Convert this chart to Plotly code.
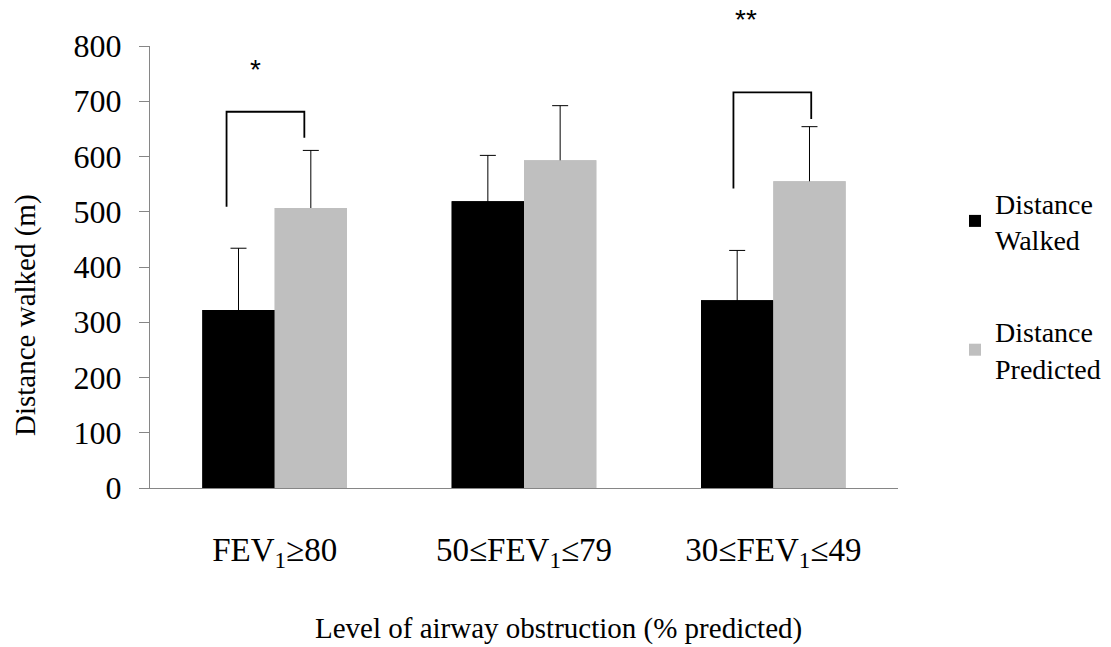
import plotly.graph_objects as go

categories = ["FEV<sub>1</sub>≥80", "50≤FEV<sub>1</sub>≤79", "30≤FEV<sub>1</sub>≤49"]
walked = [322, 519, 340]
walked_err = [112, 83, 90]
predicted = [507, 593, 555]
predicted_err = [104, 99, 99]
series_names = ["Distance<br>Walked", "Distance<br>Predicted"]
y_ticks = [0, 100, 200, 300, 400, 500, 600, 700, 800]
x_title = "Level of airway obstruction (% predicted)"
y_title = "Distance walked (m)"

FONT = "Liberation Serif"
BLACK = "#000000"
GREY = "#BFBFBF"
AXIS = "#868686"

fig = go.Figure()

# bars with error bars (lower halves get covered by the overlay copies)
for name, vals, errs, col, grp in [
    (series_names[0], walked, walked_err, BLACK, "w"),
    (series_names[1], predicted, predicted_err, GREY, "p"),
]:
    fig.add_trace(go.Bar(
        x=categories, y=vals, name=name, marker=dict(color=col, line=dict(width=0)),
        offsetgroup=grp, legendgroup=grp, showlegend=True,
        error_y=dict(type="data", array=errs, symmetric=True, color=BLACK,
                     thickness=1, width=8, visible=True),
    ))
for name, vals, col, grp in [
    (series_names[0], walked, BLACK, "w"),
    (series_names[1], predicted, GREY, "p"),
]:
    fig.add_trace(go.Bar(
        x=categories, y=vals, name=name, marker=dict(color=col, line=dict(width=0)),
        offsetgroup=grp, legendgroup=grp, showlegend=False, hoverinfo="skip",
    ))

# significance brackets
brackets = [
    # (category index, left offset, right offset, top, left bottom, right bottom)
    (0, -0.193, 0.119, 681, 509, 634),
    (2, -0.160, 0.152, 716, 542, 668),
]
for ci, lo, ro, top, lb, rb in brackets:
    fig.add_shape(type="path", xref="x", yref="y",
                  path=f"M {ci+lo},{lb} L {ci+lo},{top} L {ci+ro},{top} L {ci+ro},{rb}",
                  line=dict(color=BLACK, width=1.8))

fig.add_annotation(x=-0.076, y=757, xref="x", yref="y", text="*", showarrow=False,
                   yanchor="middle", xanchor="center",
                   font=dict(family="Liberation Sans", size=28, color=BLACK))
fig.add_annotation(x=(746 - 150) / 748, y=(488 - 20) / 442, xref="paper", yref="paper",
                   text="**", showarrow=False, yanchor="middle", xanchor="center",
                   font=dict(family="Liberation Sans", size=28, color=BLACK))

# axis titles (centred on the whole figure area as in the reference)
fig.add_annotation(x=(558 - 150) / 748, y=(488 - 628) / 442, xref="paper", yref="paper",
                   text=x_title, showarrow=False, xanchor="center", yanchor="middle",
                   font=dict(family=FONT, size=29, color=BLACK))
fig.add_annotation(x=(25 - 150) / 748, y=(488 - 315) / 442, xref="paper", yref="paper",
                   text=y_title, textangle=-90, showarrow=False,
                   xanchor="center", yanchor="middle",
                   font=dict(family=FONT, size=29, color=BLACK))

fig.update_layout(
    width=1111, height=647,
    margin=dict(l=150, r=213, t=46, b=159),
    paper_bgcolor="white", plot_bgcolor="white",
    barmode="group", bargap=0.42, bargroupgap=0,
    font=dict(family=FONT, color=BLACK),
    showlegend=True,
    legend=dict(xref="container", yref="container",
                x=955 / 1111, y=1 - 178 / 647, xanchor="left", yanchor="top",
                font=dict(family=FONT, size=28, color=BLACK),
                traceorder="grouped", tracegroupgap=53,
                bgcolor="rgba(0,0,0,0)", itemclick=False),
    xaxis=dict(
        showline=True, linecolor=AXIS, linewidth=1, ticks="", showgrid=False,
        tickfont=dict(family=FONT, size=33, color=BLACK), ticklabelstandoff=32,
    ),
    yaxis=dict(
        range=[0, 800], tickvals=y_ticks, showline=True, linecolor=AXIS, linewidth=1,
        ticks="outside", ticklen=10, tickcolor=AXIS, showgrid=False, zeroline=False,
        tickfont=dict(family=FONT, size=32, color=BLACK), ticklabelstandoff=11,
    ),
)

fig.write_html("out.html")
